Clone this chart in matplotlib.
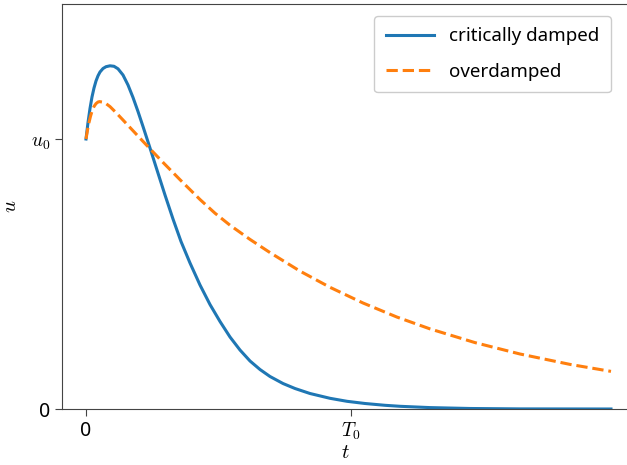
import numpy as np
import matplotlib
matplotlib.use("Agg")
import matplotlib.pyplot as plt

# values (t in units of T0, u in units of u0)
t_crit = [0, 0.00755, 0.0151, 0.0226, 0.0302, 0.0377, 0.0453, 0.0528, 0.0642, 0.0755,
          0.0906, 0.1057, 0.1208, 0.1396, 0.1585, 0.1774, 0.1962, 0.2151, 0.2415, 0.2679,
          0.2981, 0.3283, 0.3585, 0.3925, 0.4302, 0.4679, 0.5057, 0.5434, 0.5811, 0.6189,
          0.6566, 0.6943, 0.7434, 0.7887, 0.8453, 0.9208, 0.9849, 1.0528, 1.1283, 1.1849,
          1.2981, 1.4491, 1.6377, 1.9811]
u_crit = [1.0, 1.0611, 1.1130, 1.1556, 1.1889, 1.2148, 1.2341, 1.2481, 1.2611, 1.2678,
          1.2711, 1.2693, 1.26, 1.2370, 1.2, 1.1537, 1.1019, 1.0463, 0.9667, 0.8852,
          0.7926, 0.7037, 0.6204, 0.5407, 0.4593, 0.3870, 0.3241, 0.2667, 0.2185, 0.1778,
          0.1463, 0.1204, 0.0944, 0.0759, 0.0574, 0.0396, 0.0285, 0.0204, 0.0137, 0.0100,
          0.0052, 0.0019, 0.0004, 0.0]

t_over = [0, 0.00566, 0.01132, 0.01698, 0.02264, 0.03019, 0.03774, 0.04528, 0.05094,
          0.06415, 0.07547, 0.09057, 0.1132, 0.1396, 0.1660, 0.2038, 0.2415, 0.2906,
          0.3547, 0.4302, 0.4868, 0.5434, 0.6189, 0.6943, 0.8075, 0.9208, 1.0453, 1.1736,
          1.2981, 1.4679, 1.6377, 1.8264, 1.9811]
u_over = [1.0, 1.0333, 1.0611, 1.0841, 1.1030, 1.1204, 1.1311, 1.1370, 1.1385,
          1.1363, 1.1311, 1.12, 1.0978, 1.0704, 1.0426, 1.0030, 0.9637, 0.9133,
          0.8493, 0.7759, 0.7252, 0.6807, 0.6281, 0.5793, 0.5107, 0.4507, 0.3926, 0.3404,
          0.2967, 0.2459, 0.2037, 0.1652, 0.1393]

xticks = [0, 1]
xticklabels = ["0", "$T_0$"]
yticks = [0, 1]
yticklabels = ["0", "$u_0$"]

plt.rcParams['font.family'] = ['Noto Sans', 'DejaVu Sans']
plt.rcParams['mathtext.fontset'] = 'cm'

W, H = 627, 465
fig = plt.figure(figsize=(W / 100, H / 100), dpi=100)
# axes box in pixels: left 62, right beyond the edge, top 4, bottom 409
ax = fig.add_axes([62 / W, (H - 409) / H, (629 - 62) / W, (409 - 4) / H])

ax.plot(t_crit, u_crit, color='#1f77b4', lw=2.2, label='critically damped')
ax.plot(t_over, u_over, color='#ff7f0e', lw=2.2, ls='--', label='overdamped')

ax.set_xlim(-24 / 265, (629 - 86) / 265)
ax.set_ylim(0, 1.5)
ax.set_xticks(xticks)
ax.set_xticklabels(xticklabels)
ax.set_yticks(yticks)
ax.set_yticklabels(yticklabels)
ax.tick_params(labelsize=14, length=5, color='#444444')
for s in ax.spines.values():
    s.set_color('#444444')
ax.spines['right'].set_visible(False)

ax.set_xlabel('$t$', fontsize=15, labelpad=0)
ax.set_ylabel('$u$', fontsize=15, labelpad=7)

ax.legend(loc='upper right', fontsize=13.5, bbox_to_anchor=((611 - 62) / (629 - 62), 1 - 12 / 405),
          borderaxespad=0, borderpad=0.6, handlelength=2.6, handletextpad=0.8,
          labelspacing=0.95, framealpha=1, edgecolor='#cccccc')

fig.savefig('out.png', dpi=100)
